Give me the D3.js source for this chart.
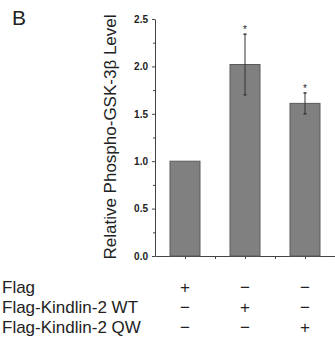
<!DOCTYPE html>
<html>
<head>
<meta charset="utf-8">
<script src="https://cdn.jsdelivr.net/npm/d3@7"></script>
<style>
  body { margin: 0; background: #fff; }
  svg text { font-family: "Liberation Sans", Arial, sans-serif; }
</style>
</head>
<body>
<div id="chart"></div>
<script>
// Data
var groups = ["Flag", "Flag-Kindlin-2 WT", "Flag-Kindlin-2 QW"];
var values = [1.0, 2.02, 1.61];
var errors = [0, 0.32, 0.11];
var stars = ["", "*", "*"];
var yTicks = [0, 0.5, 1.0, 1.5, 2.0, 2.5];
var yMinorTicks = [0.25, 0.75, 1.25, 1.75, 2.25];
// + / − table under the chart, one row per construct
var rowLabels = ["Flag", "Flag-Kindlin-2 WT", "Flag-Kindlin-2 QW"];
var rowSigns = [["+", "\u2212", "\u2212"], ["\u2212", "+", "\u2212"], ["\u2212", "\u2212", "+"]];

var width = 335, height = 344;

var svg = d3.select("#chart")
    .append("svg")
    .attr("width", width)
    .attr("height", height);

// Scales
var x = d3.scaleBand()
    .domain(groups)
    .range([155, 335])
    .paddingInner(0.5)
    .paddingOuter(0.25);
var xLin = d3.scaleLinear().domain([0, 3]).range([155, 335]);
var y = d3.scaleLinear().domain([0, 2.5]).range([256, 19]);

var axisColor = "#444";

// Y axis (major + minor ticks)
var yAxis = svg.append("g")
    .attr("transform", "translate(155,0)")
    .call(d3.axisLeft(y).tickValues(yTicks).tickFormat(d3.format(".1f")).tickSize(3).tickPadding(4).tickSizeOuter(0));
svg.append("g")
    .attr("transform", "translate(155,0)")
    .call(d3.axisLeft(y).tickValues(yMinorTicks).tickFormat("").tickSize(2).tickSizeOuter(0))
    .select(".domain").remove();
yAxis.selectAll("text")
    .attr("font-size", "10px")
    .attr("font-weight", "bold")
    .attr("fill", "#222")
    .style("font-family", "'Liberation Sans', Arial, sans-serif");

// X axis: ticks at bar centers and between bars
svg.append("g")
    .attr("transform", "translate(0,256)")
    .call(d3.axisBottom(xLin).tickValues([0.5, 1, 1.5, 2, 2.5]).tickFormat("").tickSize(3).tickSizeOuter(0));

svg.selectAll(".domain, .tick line").attr("stroke", axisColor);

function cx(i) { return x(groups[i]) + x.bandwidth() / 2; }

// Bars
svg.selectAll(".bar")
    .data(values)
    .enter()
    .append("rect")
    .attr("class", "bar")
    .attr("x", function (d, i) { return x(groups[i]); })
    .attr("y", function (d) { return y(d); })
    .attr("width", x.bandwidth())
    .attr("height", function (d) { return y(0) - y(d); })
    .attr("fill", "#808080")
    .attr("stroke", "#5a5a5a")
    .attr("stroke-width", 1);

// Error bars (only where there is an error)
var errIdx = d3.range(values.length).filter(function (i) { return errors[i] > 0; });
var eb = svg.selectAll(".err")
    .data(errIdx)
    .enter()
    .append("g")
    .attr("class", "err")
    .attr("stroke", "#333");

eb.append("line")
    .attr("x1", cx).attr("x2", cx)
    .attr("y1", function (i) { return y(values[i] - errors[i]); })
    .attr("y2", function (i) { return y(values[i] + errors[i]); })
    .attr("stroke-width", 1);

[-1, 1].forEach(function (s) {
    eb.append("line")
        .attr("x1", function (i) { return cx(i) - 1.5; })
        .attr("x2", function (i) { return cx(i) + 1.5; })
        .attr("y1", function (i) { return y(values[i] + s * errors[i]); })
        .attr("y2", function (i) { return y(values[i] + s * errors[i]); })
        .attr("stroke-width", 1.5);
});

// Significance stars
svg.selectAll(".star")
    .data(values)
    .enter()
    .append("text")
    .attr("class", "star")
    .attr("x", function (d, i) { return cx(i); })
    .attr("y", function (d, i) { return y(d + errors[i]) - 1; })
    .attr("text-anchor", "middle")
    .attr("font-size", "10px")
    .attr("fill", "#222")
    .text(function (d, i) { return stars[i]; });

// Y label
svg.append("text")
    .attr("transform", "rotate(-90)")
    .attr("x", -137)
    .attr("y", 116)
    .attr("text-anchor", "middle")
    .attr("font-size", "17px")
    .attr("fill", "#222")
    .text("Relative Phospho-GSK-3\u03b2 Level");

// Panel letter
svg.append("text")
    .attr("x", 12)
    .attr("y", 25)
    .attr("font-size", "21px")
    .attr("fill", "#222")
    .text("B");

// Condition table
rowLabels.forEach(function (label, r) {
    var by = 293 + r * 20;
    svg.append("text")
        .attr("x", 2)
        .attr("y", by)
        .attr("font-size", "17px")
        .attr("fill", "#222")
        .text(label);
    svg.selectAll(".sign-" + r)
        .data(rowSigns[r])
        .enter()
        .append("text")
        .attr("class", "sign-" + r)
        .attr("x", function (d, i) { return cx(i); })
        .attr("y", by)
        .attr("text-anchor", "middle")
        .attr("font-size", "17px")
        .attr("fill", "#222")
        .text(function (d) { return d; });
});
</script>
</body>
</html>
